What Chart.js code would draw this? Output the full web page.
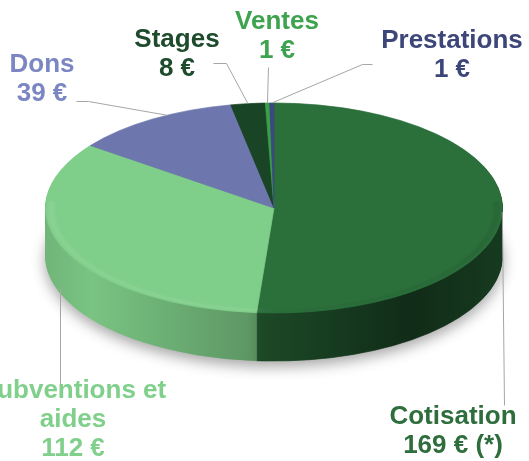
<!DOCTYPE html>
<html>
<head>
<meta charset="utf-8">
<script src="https://cdn.jsdelivr.net/npm/chart.js@4/dist/chart.umd.min.js"></script>
<style>
  html, body { margin: 0; padding: 0; background: #ffffff; overflow: hidden; }
  canvas { display: block; }
</style>
</head>
<body>
<canvas id="pieChart" width="529" height="461"></canvas>
<script>
// --- Data ---
const categoryLines = [['Cotisation'], ['Subventions et', 'aides'], ['Dons'], ['Stages'], ['Ventes'], ['Prestations']];
const values = [169, 112, 39, 8, 1, 1];
const valueNotes = [' (*)', '', '', '', '', ''];
const categories = categoryLines.map(l => l.join(' '));

// --- Styles ---
const faceColors = ['#2b6f3b', '#7fce89', '#6d77ae', '#1a4426', '#3aa048', '#3a4a7e'];
const textColors = ['#2d6e3c', '#80d08c', '#7b86c2', '#1d4b2b', '#3da34e', '#3c4679'];
const labelFont = 'bold 26px "Liberation Sans", Arial, sans-serif';
const lineHeight = 29;

// label placement (text centre, first baseline, leader points toward the slice)
const labelLayout = [
    { x: 453, y: 424, leader: [[504, 405]], at: 0.5, drop: 0 },
    { x: 73, y: 398, leader: [[60, 385]], at: 0.53, drop: 43 },
    { x: 42, y: 72, leader: [[76, 101], [88, 101]], at: 0.6, drop: 0 },
    { x: 177, y: 47, leader: [[213, 63], [226, 63]], at: 0.5, drop: 0 },
    { x: 277, y: 29, leader: [[268, 67]], at: 0.5, drop: 0 },
    { x: 452, y: 48, leader: [[372, 64], [362, 64]], at: 0.5, drop: 0 }
];

// --- 3D look ---
const CY = 208;    // centre of the tilted top face
const RY = 105;    // vertical radius of the top face
const DEPTH = 48;  // thickness of the pie

function shade(hex, f) {
    const n = parseInt(hex.slice(1), 16);
    const r = Math.round(((n >> 16) & 255) * f);
    const g = Math.round(((n >> 8) & 255) * f);
    const b = Math.round((n & 255) * f);
    return 'rgb(' + r + ',' + g + ',' + b + ')';
}

function tilt(ctx, arc) {
    const k = RY / arc.outerRadius;
    ctx.translate(0, CY - arc.y * k);
    ctx.scale(1, k);
}

function paintArc(ctx, arc, fill) {
    const ghost = Object.create(arc);
    ghost.options = Object.assign({}, arc.options, { backgroundColor: fill, borderColor: fill });
    ghost.draw(ctx);
}

const pie3d = {
    id: 'pie3d',
    beforeDatasetsDraw(chart) {
        const ctx = chart.ctx;
        const arcs = chart.getDatasetMeta(0).data;
        const a0 = arcs[0];
        const left = a0.x - a0.outerRadius;
        const right = a0.x + a0.outerRadius;

        const sideFills = faceColors.map(c => {
            const g = ctx.createLinearGradient(left, 0, right, 0);
            g.addColorStop(0, shade(c, 0.88));
            g.addColorStop(0.1, shade(c, 0.95));
            g.addColorStop(0.44, shade(c, 0.74));
            g.addColorStop(0.47, shade(c, 0.66));
            g.addColorStop(0.8, shade(c, 0.4));
            g.addColorStop(1, shade(c, 0.52));
            return g;
        });

        // side wall: stacked copies of the slices, bottom first
        for (let d = DEPTH; d >= 1; d--) {
            ctx.save();
            if (d === DEPTH) {
                ctx.shadowColor = 'rgba(0,0,0,0.35)';
                ctx.shadowBlur = 14;
                ctx.shadowOffsetY = 5;
            }
            ctx.translate(0, d);
            tilt(ctx, a0);
            arcs.forEach((arc, i) => paintArc(ctx, arc, sideFills[i]));
            ctx.restore();
        }

        // top face is drawn by Chart.js under the tilt
        ctx.save();
        tilt(ctx, a0);
    },
    afterDatasetsDraw(chart) {
        const ctx = chart.ctx;
        ctx.restore();

        // soft rounded bevel on the front rim
        const a0 = chart.getDatasetMeta(0).data[0];
        ctx.save();
        tilt(ctx, a0);
        for (let s = 0; s < 10; s++) {
            const w = Math.sin((s + 0.5) / 10 * Math.PI);
            const g = ctx.createLinearGradient(a0.x - a0.outerRadius, 0, a0.x + a0.outerRadius, 0);
            g.addColorStop(0, 'rgba(255,255,255,' + (0.07 * w) + ')');
            g.addColorStop(0.45, 'rgba(255,255,255,' + (0.06 * w) + ')');
            g.addColorStop(0.52, 'rgba(0,0,0,' + (0.02 * w) + ')');
            g.addColorStop(1, 'rgba(0,0,0,' + (0.06 * w) + ')');
            ctx.beginPath();
            ctx.arc(a0.x, a0.y, a0.outerRadius - 1 - s, -0.02 * Math.PI, 1.02 * Math.PI);
            ctx.strokeStyle = g;
            ctx.lineWidth = 1.2;
            ctx.stroke();
        }
        ctx.restore();
    }
};

const pieLabels = {
    id: 'pieLabels',
    afterDraw(chart) {
        const ctx = chart.ctx;
        const arcs = chart.getDatasetMeta(0).data;
        ctx.save();

        // leader lines
        ctx.strokeStyle = '#a6a6a6';
        ctx.lineWidth = 1;
        labelLayout.forEach((L, i) => {
            const arc = arcs[i];
            const a = arc.startAngle + (arc.endAngle - arc.startAngle) * L.at;
            const ax = arc.x + Math.cos(a) * arc.outerRadius;
            const ay = CY + Math.sin(a) * RY + L.drop;
            ctx.beginPath();
            ctx.moveTo(L.leader[0][0] + 0.5, L.leader[0][1] + 0.5);
            for (let p = 1; p < L.leader.length; p++) {
                ctx.lineTo(L.leader[p][0] + 0.5, L.leader[p][1] + 0.5);
            }
            ctx.lineTo(ax, ay);
            ctx.stroke();
        });

        // texts
        ctx.font = labelFont;
        ctx.textAlign = 'center';
        ctx.textBaseline = 'alphabetic';
        labelLayout.forEach((L, i) => {
            const lines = categoryLines[i].concat([values[i] + ' €' + valueNotes[i]]);
            ctx.fillStyle = textColors[i];
            lines.forEach((t, j) => ctx.fillText(t, L.x, L.y + j * lineHeight));
        });
        ctx.restore();
    }
};

const ctxPie = document.getElementById('pieChart').getContext('2d');
const pieChart = new Chart(ctxPie, {
    type: 'pie',
    data: {
        labels: categories,
        datasets: [{
            data: values,
            backgroundColor: faceColors,
            borderColor: faceColors,
            borderWidth: 1
        }]
    },
    options: {
        responsive: false,
        maintainAspectRatio: false,
        animation: false,
        devicePixelRatio: 1,
        layout: { padding: { left: 45, right: 26, top: 1, bottom: 2 } },
        plugins: {
            legend: { display: false },
            tooltip: { enabled: false }
        }
    },
    plugins: [pie3d, pieLabels]
});
</script>
</body>
</html>
